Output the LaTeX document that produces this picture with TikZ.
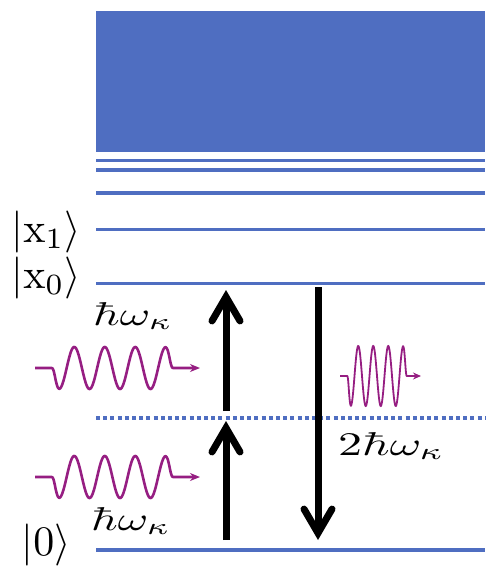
\documentclass[tikz,border=0pt]{standalone}
\usetikzlibrary{arrows.meta}
\definecolor{lvl}{RGB}{79,110,193}
\definecolor{wav}{RGB}{150,30,130}
\tikzset{
  level/.style={draw=lvl, line width=3.6pt},
  dotlevel/.style={draw=lvl, line width=3.6pt, dash pattern=on 4pt off 3.2pt},
  trans/.style={line width=7pt, -{Straight Barb[length=24pt,width=28pt,line cap=round,line join=miter]}},
  ket/.style={anchor=base east, inner sep=0pt},
  elabel/.style={anchor=base west, inner sep=0pt},
  photon/.style={draw=wav, line width=2.6pt, -{Stealth[length=10pt,width=8pt]}},
  photonthin/.style={draw=wav, line width=1.8pt, -{Stealth[length=8pt,width=7pt]}}
}
\begin{document}
\begin{tikzpicture}[x=1pt,y=-1pt]
\useasboundingbox (0,0) rectangle (485,569);
% continuum
\fill[lvl] (96,11) rectangle (485,152);
% levels
\coordinate (c1l) at (96,160.7); \coordinate (c1r) at (485,160.7);
\coordinate (c2l) at (96,170.3); \coordinate (c2r) at (485,170.3);
\coordinate (c3l) at (96,193);   \coordinate (c3r) at (485,193);
\coordinate (x1l) at (96,229.3); \coordinate (x1r) at (485,229.3);
\coordinate (x0l) at (96,283.3); \coordinate (x0r) at (485,283.3);
\coordinate (vl)  at (96,417.7); \coordinate (vr)  at (485,417.7);
\coordinate (g0l) at (96,550);   \coordinate (g0r) at (485,550);
\draw[level] (c1l) -- (c1r);
\draw[level] (c2l) -- (c2r);
\draw[level] (c3l) -- (c3r);
\draw[level] (x1l) -- (x1r);
\draw[level] (x0l) -- (x0r);
\draw[dotlevel] (vl) -- (vr);
\draw[level] (g0l) -- (g0r);
% kets
\node[ket] (kx1) at (81,242) {\scalebox{4.2}{$|\mathrm{x}_1\rangle$}};
\node[ket] (kx0) at (81,288) {\scalebox{4.2}{$|\mathrm{x}_0\rangle$}};
\node[ket] (k0) at (71,555) {\scalebox{4.2}{$|0\rangle$}};
% energy labels
\node[elabel] (e1) at (93,325) {\scalebox{4.64}[3.3]{$\hbar\omega_\kappa$}};
\node[elabel] (e2) at (91,530) {\scalebox{4.64}[3.3]{$\hbar\omega_\kappa$}};
\node[elabel] (e3) at (338,455) {\scalebox{4.8}[3.3]{$2\hbar\omega_\kappa$}};
% transitions
\coordinate (a1s) at (226,540); \coordinate (a1e) at (226,421);
\coordinate (a2s) at (226,411); \coordinate (a2e) at (226,290);
\coordinate (a3s) at (318,287); \coordinate (a3e) at (318,540);
\draw[trans] (a1s) -- (a1e);
\draw[trans] (a2s) -- (a2e);
\draw[trans] (a3s) -- (a3e);
% photons
\draw[photon] (35,368) -- (51.4,368)
  -- plot[domain=0:4, samples=200] ({51.4+30.5*\x},{368+21*sin(360*\x)*(1-exp(-(\x/0.12)^2))*(1-exp(-((4-\x)/0.12)^2))})
  -- (200,368);
\draw[photon] (35,477) -- (51.4,477)
  -- plot[domain=0:4, samples=200] ({51.4+30.5*\x},{477+21*sin(360*\x)*(1-exp(-(\x/0.12)^2))*(1-exp(-((4-\x)/0.12)^2))})
  -- (200,477);
\draw[photonthin] (340,376) -- (347,376)
  -- plot[domain=0:4, samples=200] ({347+15*\x},{376+30*sin(360*\x)*(1-exp(-(\x/0.12)^2))*(1-exp(-((4-\x)/0.12)^2))})
  -- (421,376);
\end{tikzpicture}
\end{document}
